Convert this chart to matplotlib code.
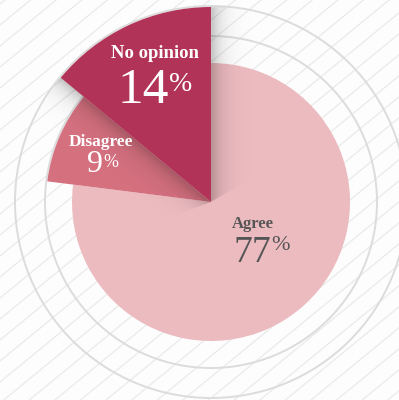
import numpy as np
import matplotlib
matplotlib.use("Agg")
import matplotlib.pyplot as plt
from matplotlib.patches import Circle

# Survey responses (percent)
labels = ["Agree", "Disagree", "No opinion"]
shares = [77, 9, 14]
colors = ["#ecbbc0", "#d5707f", "#b23358"]
text_colors = ["#555555", "#ffffff", "#ffffff"]
radii = [139, 165, 195]          # each slice has its own radius
ring_radii = [166, 196]

fig = plt.figure(figsize=(3.99, 4.0), dpi=100)
fig.patch.set_facecolor("#fdfdfd")
ax = fig.add_axes([0, 0, 1, 1])
ax.set_facecolor("#fdfdfd")

XL, XR, YB, YT = -211, 188, -198, 202

# diagonal background hatching
slope = 0.82
for c in np.arange(-700, 700, 21):
    xs = np.array([XL - 10, XR + 10])
    ax.plot(xs, slope * xs + c, color="#eaeaea", lw=0.9, zorder=0)

# concentric guide rings
for r in ring_radii:
    ax.add_patch(Circle((0, 0), r, fill=False, ec="#dcdcdc", lw=1.4, zorder=1))

# slices, each drawn from the full pie at its own radius
for i in range(3):
    wedges, _ = ax.pie(shares, radius=radii[i], startangle=90, counterclock=False,
                       colors=colors, wedgeprops=dict(lw=0))
    for j, w in enumerate(wedges):
        w.set_visible(j == i)
        w.set_zorder(2 + (3 if i == 2 else i))

# soft shadow cast by the largest slice
frac = np.cumsum(shares) / sum(shares)
a_start = 90.0                                  # top edge of the slice
a_end = (90.0 - 360.0 * frac[1]) % 360          # lower edge of the slice
X, Y = np.meshgrid(np.arange(XL, XR, 0.5), np.arange(YB, YT, 0.5))
R = np.hypot(X, Y)
T = np.degrees(np.arctan2(Y, X)) % 360
alpha = np.zeros_like(X)
m1 = (T >= a_start - 60) & (T <= a_start)
d1 = R * np.sin(np.radians(a_start - T))
alpha[m1] = 0.24 * np.exp(-d1[m1] / 10.0)
m2 = (T >= a_end) & (T <= a_end + 60)
d2 = R * np.sin(np.radians(T - a_end))
alpha[m2] = np.maximum(alpha[m2], 0.24 * np.exp(-d2[m2] / 10.0))
alpha[R > radii[2]] = 0
img = np.zeros(X.shape + (4,))
img[..., 3] = alpha
ax.imshow(img, extent=(XL, XR, YB, YT), origin="lower", zorder=4,
          interpolation="bilinear")

serif = ["Liberation Serif", "DejaVu Serif"]


def px(x, y):
    return x - 211, 202 - y


# category labels
label_pos = [(253, 228), (101, 146), (155, 58)]
label_size = [12, 12.5, 13.5]
for i in range(3):
    ax.text(*px(*label_pos[i]), labels[i], ha="center", va="baseline",
            fontsize=label_size[i], color=text_colors[i], family=serif,
            fontweight="bold", zorder=10)

# percentages with raised % sign
num_pos = [(233, 262), (87, 172), (117, 103)]
num_size = [27, 23, 37]
pct_size = [16, 13, 20]
pct_rise = [10.5, 6, 12]     # points above the number's baseline
for i in range(3):
    t = ax.text(*px(*num_pos[i]), f"{shares[i]}", ha="left", va="baseline",
                fontsize=num_size[i], color=text_colors[i], family=serif, zorder=10)
    ax.annotate("%", xy=(1, 0), xycoords=t, xytext=(0.5, pct_rise[i]),
                textcoords="offset points", ha="left", va="bottom",
                fontsize=pct_size[i], color=text_colors[i], family=serif, zorder=10)

ax.set_xlim(XL, XR)
ax.set_ylim(YB, YT)
ax.set_aspect("auto")
ax.axis("off")
fig.savefig("out.png", dpi=100, facecolor=fig.get_facecolor())
